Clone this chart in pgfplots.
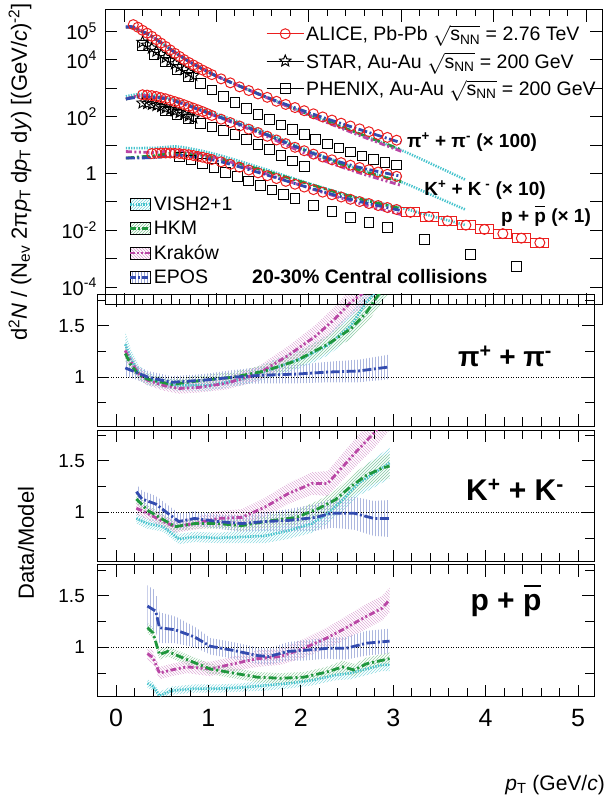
\documentclass[border=0pt]{standalone}
\usepackage{fontspec}
\setmainfont{Liberation Sans}
\usepackage{amsmath}
\usepackage{pgfplots}
\pgfplotsset{compat=1.18}
\usepackage{pgfplotstable}
\usetikzlibrary{patterns}

\definecolor{cVISH}{RGB}{70,195,205}
\definecolor{cHKM}{RGB}{30,150,60}
\definecolor{cKRK}{RGB}{185,70,165}
\definecolor{cEPOS}{RGB}{50,75,175}
\definecolor{cALICE}{RGB}{235,30,30}

\newcommand{\fs}[1]{\fontsize{#1}{#1}\selectfont}
\newcommand{\pbar}{\makebox[0pt][l]{\hspace{0.03em}\rule[0.78em]{0.55em}{0.08em}}p}

\pgfdeclareplotmark{fivestar}{%
 \pgfpathmoveto{\pgfpointpolar{90}{\pgfplotmarksize}}%
 \pgfpathlineto{\pgfpointpolar{126}{0.45\pgfplotmarksize}}%
 \pgfpathlineto{\pgfpointpolar{162}{\pgfplotmarksize}}%
 \pgfpathlineto{\pgfpointpolar{198}{0.45\pgfplotmarksize}}%
 \pgfpathlineto{\pgfpointpolar{234}{\pgfplotmarksize}}%
 \pgfpathlineto{\pgfpointpolar{270}{0.45\pgfplotmarksize}}%
 \pgfpathlineto{\pgfpointpolar{306}{\pgfplotmarksize}}%
 \pgfpathlineto{\pgfpointpolar{342}{0.45\pgfplotmarksize}}%
 \pgfpathlineto{\pgfpointpolar{18}{\pgfplotmarksize}}%
 \pgfpathlineto{\pgfpointpolar{54}{0.45\pgfplotmarksize}}%
 \pgfpathclose\pgfusepathqstroke}
\pgfdeclareplotmark{sysbox}{%
 \pgfpathrectangle{\pgfqpoint{-9pt}{-4.5pt}}{\pgfqpoint{18pt}{9pt}}\pgfusepathqstroke}

\tikzset{
 vish/.style={cVISH, line width=2.6pt, dash pattern=on 1.3pt off 1.3pt},
 hkm/.style={cHKM, line width=2.8pt, dash pattern=on 8pt off 3pt on 2pt off 3pt},
 krk/.style={cKRK, line width=2.8pt, dash pattern=on 6pt off 2.5pt on 2pt off 2.5pt on 2pt off 2.5pt},
 epos/.style={cEPOS, line width=2.8pt, dash pattern=on 9pt off 2.5pt on 2pt off 2.5pt},
}
\pgfplotsset{
 panel/.style={scale only axis, width=497pt, xmin=-0.206, xmax=5.173,
   xtick={0,1,2,3,4,5}, minor x tick num=4, xticklabels={,,,,,},
   axis line style={line width=1pt}, tick style={black, line width=0.9pt},
   tick align=inside, major tick length=12pt, minor tick length=6pt,
   anchor=south west},
 ratio/.style={panel, ymin=0.52, ymax=1.8, ytick={1,1.5}, yticklabels={1,1.5},
   minor ytick={0.75,1.25,1.75}, minor tick length=9pt,
   yticklabel style={font=\fs{19}, inner sep=0pt, anchor=east, xshift=-12pt}},
}

% hatched band between r-e and r+e, drawn in its own hidden axis
\newcommand{\bandaxis}[5]{%
\begin{axis}[scale only axis, width=497pt, height=#2, at={(105,#1)}, anchor=south west,
  xmin=-0.206, xmax=5.173, ymin=0.52, ymax=1.8, hide axis, stack plots=y]
\addplot[draw=none, fill=none, forget plot] table[x=x, y expr=\thisrow{r}-\thisrow{e}] {#3} \closedcycle;
\addplot[draw=none, pattern=#5, pattern color=#4, forget plot] table[x=x, y expr=2*\thisrow{e}] {#3} \closedcycle;
\end{axis}}

% ---------- ratio tables: pions ----------
\pgfplotstableread{
x r e
0.10 1.32 0.12
0.16 1.18 0.09
0.25 1.04 0.07
0.345 0.98 0.06
0.64 0.92 0.05
1.02 0.92 0.05
1.36 0.98 0.06
1.69 1.08 0.08
2.03 1.19 0.09
2.29 1.31 0.10
2.54 1.50 0.12
2.71 1.73 0.14
2.81 1.83 0.15
2.96 2.00 0.16
}\rPiV
\pgfplotstableread{
x r e
0.10 1.23 0.07
0.16 1.12 0.06
0.25 1.02 0.05
0.345 0.98 0.05
0.60 0.93 0.05
0.94 0.97 0.05
1.27 1.00 0.05
1.61 1.06 0.06
1.95 1.16 0.07
2.29 1.32 0.08
2.54 1.47 0.10
2.71 1.63 0.11
2.83 1.79 0.12
2.96 1.95 0.13
}\rPiH
\pgfplotstableread{
x r e
0.10 1.26 0.08
0.16 1.15 0.07
0.25 1.03 0.06
0.345 0.97 0.05
0.51 0.92 0.05
0.68 0.89 0.05
0.89 0.90 0.05
1.19 0.94 0.06
1.53 1.03 0.07
1.86 1.21 0.09
2.16 1.40 0.11
2.37 1.57 0.12
2.54 1.73 0.13
2.66 1.81 0.14
2.96 2.20 0.15
}\rPiK
\pgfplotstableread{
x r e
0.10 1.09 0.08
0.345 1.00 0.06
0.60 0.95 0.06
0.94 0.97 0.06
1.27 1.00 0.07
1.61 1.02 0.08
1.95 1.03 0.09
2.29 1.05 0.10
2.62 1.06 0.11
2.96 1.10 0.12
}\rPiE
% ---------- ratio tables: kaons ----------
\pgfplotstableread{
x r e
0.22 0.94 0.05
0.34 0.89 0.05
0.51 0.86 0.05
0.68 0.74 0.05
0.85 0.76 0.05
1.10 0.75 0.05
1.36 0.76 0.06
1.61 0.77 0.07
1.86 0.82 0.08
2.12 0.89 0.09
2.29 0.99 0.10
2.45 1.12 0.11
2.62 1.28 0.12
2.79 1.38 0.14
2.96 1.48 0.15
}\rKV
\pgfplotstableread{
x r e
0.22 1.13 0.05
0.34 1.02 0.05
0.47 0.95 0.05
0.64 0.86 0.05
0.85 0.89 0.05
1.10 0.89 0.05
1.36 0.87 0.05
1.61 0.91 0.06
1.95 0.95 0.07
2.20 1.04 0.08
2.37 1.12 0.09
2.54 1.25 0.10
2.71 1.36 0.11
2.88 1.43 0.12
2.96 1.45 0.12
}\rKH
\pgfplotstableread{
x r e
0.22 1.04 0.06
0.34 0.99 0.06
0.51 0.91 0.06
0.64 0.86 0.06
0.85 0.89 0.06
1.10 0.94 0.07
1.36 0.95 0.08
1.61 1.05 0.09
1.86 1.18 0.10
2.12 1.28 0.11
2.29 1.28 0.12
2.45 1.44 0.13
2.62 1.61 0.14
2.79 1.77 0.15
2.96 1.95 0.15
}\rKK
\pgfplotstableread{
x r e
0.22 1.20 0.08
0.28 1.13 0.08
0.43 1.08 0.08
0.56 0.99 0.08
0.68 0.91 0.08
0.85 0.94 0.07
1.10 0.91 0.07
1.36 0.89 0.08
1.61 0.91 0.09
1.86 0.92 0.11
2.16 0.95 0.13
2.33 0.99 0.14
2.58 0.99 0.16
2.79 0.94 0.17
2.96 0.94 0.18
}\rKE
% ---------- ratio tables: protons ----------
\pgfplotstableread{
x r e
0.34 0.65 0.04
0.40 0.62 0.04
0.47 0.53 0.04
0.60 0.58 0.04
0.85 0.60 0.04
1.10 0.60 0.04
1.36 0.61 0.04
1.61 0.63 0.05
1.86 0.65 0.05
2.12 0.68 0.05
2.37 0.73 0.05
2.54 0.75 0.06
2.71 0.79 0.06
2.88 0.83 0.06
2.96 0.83 0.06
}\rPV
\pgfplotstableread{
x r e
0.34 1.19 0.05
0.40 1.14 0.05
0.47 0.93 0.05
0.56 0.96 0.05
0.77 0.88 0.05
1.02 0.79 0.05
1.27 0.75 0.05
1.53 0.71 0.05
1.78 0.70 0.05
2.03 0.71 0.05
2.28 0.76 0.05
2.45 0.81 0.06
2.58 0.78 0.06
2.71 0.84 0.06
2.96 0.89 0.06
}\rPH
\pgfplotstableread{
x r e
0.34 0.94 0.06
0.40 0.90 0.06
0.47 0.75 0.06
0.60 0.78 0.06
0.77 0.81 0.06
1.02 0.79 0.07
1.27 0.84 0.07
1.53 0.89 0.08
1.78 0.91 0.08
2.03 0.99 0.09
2.28 1.09 0.10
2.45 1.17 0.11
2.71 1.30 0.12
2.88 1.38 0.12
2.96 1.46 0.12
}\rPK
\pgfplotstableread{
x r e
0.34 1.40 0.20
0.43 1.35 0.20
0.47 1.19 0.15
0.64 1.17 0.13
0.85 1.10 0.10
1.02 1.01 0.08
1.27 0.97 0.08
1.53 0.92 0.08
1.65 0.91 0.08
1.86 0.96 0.09
2.03 0.97 0.10
2.28 0.99 0.10
2.49 0.99 0.11
2.71 1.04 0.12
2.96 1.06 0.12
}\rPE

\begin{document}
\begin{tikzpicture}[x=1pt,y=1pt]
\path[use as bounding box] (0,0) rectangle (608,802);

% ================= BANDS =================
\bandaxis{365.5}{131.5pt}{\rPiV}{cVISH!60}{north east lines}
\bandaxis{365.5}{131.5pt}{\rPiH}{cHKM!45}{north east lines}
\bandaxis{365.5}{131.5pt}{\rPiK}{cKRK!45}{north west lines}
\bandaxis{365.5}{131.5pt}{\rPiE}{cEPOS!40}{vertical lines}
\bandaxis{234}{131.5pt}{\rKV}{cVISH!60}{north east lines}
\bandaxis{234}{131.5pt}{\rKH}{cHKM!45}{north east lines}
\bandaxis{234}{131.5pt}{\rKK}{cKRK!45}{north west lines}
\bandaxis{234}{131.5pt}{\rKE}{cEPOS!40}{vertical lines}
\bandaxis{102}{132pt}{\rPV}{cVISH!60}{north east lines}
\bandaxis{102}{132pt}{\rPH}{cHKM!45}{north east lines}
\bandaxis{102}{132pt}{\rPK}{cKRK!45}{north west lines}
\bandaxis{102}{132pt}{\rPE}{cEPOS!40}{vertical lines}

% ================= RATIO: PIONS =================
\begin{axis}[ratio, at={(105,365.5)}, height=131.5pt]
\addplot[black, line width=1pt, dash pattern=on 1pt off 1.5pt, forget plot] coordinates {(-0.3,1)(5.3,1)};
\addplot[vish, forget plot] table[x=x,y=r] {\rPiV};
\addplot[krk, forget plot] table[x=x,y=r] {\rPiK};
\addplot[hkm, forget plot] table[x=x,y=r] {\rPiH};
\addplot[epos, forget plot] table[x=x,y=r] {\rPiE};
\end{axis}

% ================= RATIO: KAONS =================
\begin{axis}[ratio, at={(105,234)}, height=131.5pt]
\addplot[black, line width=1pt, dash pattern=on 1pt off 1.5pt, forget plot] coordinates {(-0.3,1)(5.3,1)};
\addplot[vish, forget plot] table[x=x,y=r] {\rKV};
\addplot[krk, forget plot] table[x=x,y=r] {\rKK};
\addplot[hkm, forget plot] table[x=x,y=r] {\rKH};
\addplot[epos, forget plot] table[x=x,y=r] {\rKE};
\end{axis}

% ================= RATIO: PROTONS =================
\begin{axis}[ratio, at={(105,102)}, height=132pt,
  xticklabels={0,1,2,3,4,5},
  xticklabel style={font=\fs{25}, inner sep=0pt, anchor=north, yshift=-12pt}]
\addplot[black, line width=1pt, dash pattern=on 1pt off 1.5pt, forget plot] coordinates {(-0.3,1)(5.3,1)};
\addplot[vish, forget plot] table[x=x,y=r] {\rPV};
\addplot[krk, forget plot] table[x=x,y=r] {\rPK};
\addplot[hkm, forget plot] table[x=x,y=r] {\rPH};
\addplot[epos, forget plot] table[x=x,y=r] {\rPE};
\end{axis}

% ================= TOP PANEL =================
\begin{scope}[shift={(105,497)}]
\begin{axis}[panel, height=295pt,
  ymode=log, ymin=2.33e-5, ymax=5.7e5,
  ytick={1e-4,1e-3,1e-2,1e-1,1,1e1,1e2,1e3,1e4,1e5},
  yticklabels={{10\textsuperscript{-4}},{},{10\textsuperscript{-2}},{},{1},{},{10\textsuperscript{2}},{},{10\textsuperscript{4}},{10\textsuperscript{5}}},
  minor y tick style={draw=none},
  yticklabel style={font=\fs{20}, inner sep=0pt, anchor=east, xshift=-8pt},
  legend image code/.code={\draw[mark repeat=2,mark phase=2,#1] plot coordinates {(0pt,0pt) (18.5pt,0pt) (37pt,0pt)};},
  legend style={at={(axis description cs:0.318,0.963)}, anchor=north west, draw=none, fill=none,
    font=\fs{19.5}, row sep=6pt, cells={anchor=west}},
]
\addlegendimage{cALICE, mark=o, mark size=5pt, line width=1pt}
\addlegendimage{black, mark=fivestar, mark size=6pt, line width=1pt}
\addlegendimage{black, mark=square, mark size=5pt, line width=1pt}

% PHENIX pions (x100)
\addplot[black, only marks, mark=square, mark size=4.8pt, line width=1pt, forget plot] coordinates {
(0.200,3.16e4)(0.325,1.58e4)(0.450,8.32e3)(0.575,4.47e3)(0.700,2.51e3)(0.825,1.48e3)(0.950,871)(1.075,513)(1.200,309)(1.325,191)(1.450,120)(1.575,77.6)(1.700,51.3)(1.825,34.7)(1.950,23.4)(2.075,15.8)(2.200,11.0)(2.325,7.76)(2.450,5.62)(2.575,4.17)(2.700,3.16)(2.825,2.45)(2.950,2.00)};
% PHENIX kaons (x10)
\addplot[black, only marks, mark=square, mark size=4.8pt, line width=1pt, forget plot] coordinates {
(0.450,158)(0.575,120)(0.700,83.2)(0.825,57.5)(0.950,43.7)(1.075,33.1)(1.200,23.4)(1.325,15.8)(1.450,10.7)(1.575,7.08)(1.700,4.37)(1.825,2.75)(1.950,1.78)};
% PHENIX protons
\addplot[black, only marks, mark=square, mark size=4.8pt, line width=1pt, forget plot] coordinates {
(0.600,3.80)(0.725,2.95)(0.850,2.19)(0.975,1.55)(1.100,1.10)(1.225,0.776)(1.350,0.537)(1.475,0.372)(1.600,0.257)(1.725,0.182)(1.850,0.129)(2.050,0.0741)(2.250,0.0447)(2.450,0.0282)(2.650,0.0186)(2.850,0.0123)(3.250,0.00468)(3.750,0.00141)(4.250,0.000525)};
% STAR pions and kaons
\addplot[black, only marks, mark=fivestar, mark size=6pt, line width=0.9pt, forget plot] coordinates {
(0.20,4.17e4)(0.25,3.31e4)(0.30,2.57e4)(0.35,2.00e4)(0.40,1.55e4)(0.45,1.20e4)(0.50,9.33e3)(0.55,7.24e3)(0.60,5.62e3)(0.65,4.47e3)(0.70,3.55e3)(0.75,2.82e3)};
\addplot[black, only marks, mark=fivestar, mark size=6pt, line width=0.9pt, forget plot] coordinates {
(0.20,302)(0.25,288)(0.30,269)(0.35,245)(0.40,224)(0.45,200)(0.50,178)(0.55,158)(0.60,138)(0.65,120)(0.70,105)(0.75,89.1)};
% ALICE pions (x100)
\addplot[cALICE, only marks, mark=o, mark size=5pt, line width=1pt, forget plot] coordinates {
(0.10,1.74e5)(0.15,1.41e5)(0.20,1.10e5)(0.25,8.71e4)(0.30,6.76e4)(0.35,5.13e4)(0.40,3.89e4)(0.45,2.95e4)(0.50,2.24e4)(0.55,1.70e4)(0.60,1.32e4)(0.65,1.02e4)(0.70,8.13e3)(0.75,6.61e3)(0.80,5.37e3)(0.85,4.37e3)(0.90,3.63e3)(0.95,3.02e3)
(1.05,2.14e3)(1.15,1.55e3)(1.25,1.12e3)(1.35,832)(1.45,631)(1.55,479)(1.65,347)(1.75,269)(1.85,209)(1.95,162)(2.05,126)(2.15,97.7)(2.25,75.9)(2.35,58.9)(2.45,46.8)(2.55,37.2)(2.65,29.5)(2.75,23.4)(2.85,18.6)(2.95,14.8)};
% ALICE kaons (x10)
\addplot[cALICE, only marks, mark=o, mark size=5pt, line width=1pt, forget plot] coordinates {
(0.20,589)(0.25,575)(0.30,550)(0.35,513)(0.40,468)(0.45,427)(0.50,380)(0.55,339)(0.60,302)(0.65,263)(0.70,229)(0.75,200)(0.80,174)(0.85,151)(0.90,129)(0.95,110)
(1.05,81.3)(1.15,61.7)(1.25,46.8)(1.35,36.3)(1.45,27.5)(1.55,20.4)(1.65,15.1)(1.75,11.2)(1.85,8.32)(1.95,6.31)(2.05,4.79)(2.15,3.80)(2.25,3.02)(2.35,2.40)(2.45,1.95)(2.55,1.62)(2.65,1.35)(2.75,1.12)(2.85,0.933)(2.95,0.794)};
% ALICE protons
\addplot[cALICE, only marks, mark=o, mark size=5pt, line width=1pt, forget plot] coordinates {
(0.30,5.01)(0.35,5.13)(0.40,5.25)(0.45,5.25)(0.50,5.25)(0.55,5.13)(0.60,5.01)(0.65,4.79)(0.70,4.57)(0.75,4.27)(0.80,3.98)(0.85,3.72)(0.90,3.39)(0.95,3.09)
(1.05,2.57)(1.15,2.09)(1.25,1.66)(1.35,1.32)(1.45,1.05)(1.55,0.832)(1.65,0.661)(1.75,0.525)(1.85,0.417)(1.95,0.331)(2.05,0.269)(2.15,0.219)(2.25,0.178)(2.35,0.148)(2.45,0.123)(2.55,0.102)(2.65,0.0871)(2.75,0.0741)(2.85,0.0631)(2.95,0.0537)
(3.10,0.0427)(3.30,0.0302)(3.50,0.0214)(3.70,0.0151)(3.90,0.0107)(4.10,0.00759)(4.30,0.00525)(4.50,0.00363)};
\addplot[cALICE, only marks, mark=sysbox, line width=0.8pt, forget plot] coordinates {
(3.10,0.0427)(3.30,0.0302)(3.50,0.0214)(3.70,0.0151)(3.90,0.0107)(4.10,0.00759)(4.30,0.00525)(4.50,0.00363)};

% ---- model curves: pions ----
\addplot[vish, smooth, forget plot] coordinates {(0.02,1.41e5)(0.1,1.35e5)(0.2,9.77e4)(0.3,6.76e4)(0.5,2.40e4)(0.7,8.91e3)(1.0,2.69e3)(1.5,550)(2.0,120)(2.5,28.2)(3.0,6.61)(3.35,2.0)(3.7,0.589)};
\addplot[hkm, smooth, forget plot] coordinates {(0.02,1.41e5)(0.1,1.35e5)(0.2,9.77e4)(0.3,6.76e4)(0.5,2.40e4)(0.7,8.91e3)(1.0,2.69e3)(1.5,550)(2.0,120)(2.5,28.8)(3.0,6.76)};
\addplot[krk, smooth, forget plot] coordinates {(0.02,1.41e5)(0.1,1.35e5)(0.2,9.77e4)(0.3,6.76e4)(0.5,2.40e4)(0.7,8.91e3)(1.0,2.69e3)(1.5,537)(2.0,112)(2.5,25.1)(3.0,6.03)};
\addplot[epos, smooth, forget plot] coordinates {(0.02,1.45e5)(0.1,1.45e5)(0.2,1.0e5)(0.3,6.76e4)(0.5,2.40e4)(0.7,8.91e3)(1.0,2.69e3)(1.5,550)(2.0,138)(2.5,39.8)(3.0,12.0)};
% ---- model curves: kaons ----
\addplot[vish, smooth, forget plot] coordinates {(0.02,513)(0.2,631)(0.5,437)(1.0,126)(1.5,30.9)(2.0,6.31)(2.5,1.58)(3.0,0.501)(3.35,0.162)(3.7,0.0525)};
\addplot[hkm, smooth, forget plot] coordinates {(0.02,417)(0.2,525)(0.5,398)(1.0,107)(1.5,26.3)(2.0,5.75)(2.5,1.45)(3.0,0.513)};
\addplot[krk, smooth, forget plot] coordinates {(0.02,417)(0.2,562)(0.5,407)(1.0,102)(1.5,23.4)(2.0,4.47)(2.5,1.17)(3.0,0.380)};
\addplot[epos, smooth, forget plot] coordinates {(0.02,417)(0.2,490)(0.5,389)(1.0,105)(1.5,26.3)(2.0,5.75)(2.5,1.78)(3.0,0.794)};
% ---- model curves: protons ----
\addplot[vish, smooth, forget plot] coordinates {(0.02,7.76)(0.34,7.94)(0.6,8.71)(1.0,4.68)(1.5,1.51)(2.0,0.447)(2.5,0.148)(3.0,0.0617)(3.35,0.0302)(3.7,0.0151)};
\addplot[hkm, smooth, forget plot] coordinates {(0.02,3.47)(0.34,4.27)(0.6,5.25)(1.0,3.55)(1.5,1.29)(2.0,0.427)(2.5,0.141)(3.0,0.0575)};
\addplot[krk, smooth, forget plot] coordinates {(0.02,5.89)(0.34,5.50)(0.6,6.46)(1.0,3.55)(1.5,1.07)(2.0,0.309)(2.5,0.0977)(3.0,0.0355)};
\addplot[epos, smooth, forget plot] coordinates {(0.02,3.47)(0.34,3.63)(0.6,4.37)(1.0,2.82)(1.5,0.977)(2.0,0.316)(2.5,0.112)(3.0,0.0490)};

\legend{{ALICE, Pb-Pb $\sqrt{\text{s}_{\text{NN}}}$ = 2.76 TeV},{STAR, Au-Au $\sqrt{\text{s}_{\text{NN}}}$ = 200 GeV},{PHENIX, Au-Au $\sqrt{\text{s}_{\text{NN}}}$ = 200 GeV}}
\end{axis}
\end{scope}

% model legend (overlay axis)
\begin{scope}[shift={(105,497)}]
\begin{axis}[anchor=south west, scale only axis, width=497pt, height=295pt,
  hide axis, xmin=0, xmax=1, ymin=0, ymax=1,
  legend style={at={(axis description cs:0.042,0.38)}, anchor=north west, draw=none, fill=none,
    font=\fs{19.5}, row sep=5pt, cells={anchor=west}}]
\addplot[draw=none, forget plot] coordinates {(0,0)(1,1)};
\addlegendimage{legend image code/.code={\fill[pattern=north east lines, pattern color=cVISH!70] (0pt,-6pt) rectangle (20pt,6pt); \draw[vish] (0pt,0pt) -- (20pt,0pt);}}
\addlegendimage{legend image code/.code={\fill[pattern=north east lines, pattern color=cHKM!55] (0pt,-6pt) rectangle (20pt,6pt); \draw[hkm, dash pattern=on 6pt off 2pt on 2pt off 2pt] (0pt,0pt) -- (20pt,0pt);}}
\addlegendimage{legend image code/.code={\fill[pattern=north west lines, pattern color=cKRK!55] (0pt,-6pt) rectangle (20pt,6pt); \draw[krk, dash pattern=on 5pt off 2pt on 2pt off 2pt on 2pt off 2pt] (0pt,0pt) -- (20pt,0pt);}}
\addlegendimage{legend image code/.code={\fill[pattern=vertical lines, pattern color=cEPOS!50] (0pt,-6pt) rectangle (20pt,6pt); \draw[epos, dash pattern=on 6pt off 2pt on 2pt off 2pt] (0pt,0pt) -- (20pt,0pt);}}
\legend{VISH2+1,HKM,Kraków,EPOS}
\end{axis}
\end{scope}

% ================= TEXT =================
\node[font=\fs{19}\bfseries] at (472,660) {π\textsuperscript{+} + π\textsuperscript{-} (× 100)};
\node[font=\fs{19}\bfseries] at (485,612) {K\textsuperscript{+} + K\textsuperscript{ -} (× 10)};
\node[font=\fs{19}\bfseries] at (546,586) {p + \pbar{} (× 1)};
\node[font=\fs{19.5}\bfseries, anchor=west, inner sep=0pt] at (252,525) {20-30\% Central collisions};

\node[font=\fs{28}\bfseries] at (505,446) {π\textsuperscript{+} + π\textsuperscript{-}};
\node[font=\fs{30}\bfseries] at (515,312) {K\textsuperscript{+} + K\textsuperscript{-}};
\node[font=\fs{30}\bfseries] at (506,201) {p + \pbar};

\node[rotate=90, font=\fs{22}, inner sep=0pt] at (20,630) {d\textsuperscript{2}\textit{N} / (N\textsubscript{ev} 2π\textit{p}\textsubscript{T} d\textit{p}\textsubscript{T} d\textit{y}) [(GeV/\textit{c})\textsuperscript{-2}]};
\node[rotate=90, font=\fs{22}, inner sep=0pt] at (26,259) {Data/Model};
\node[font=\fs{21}, anchor=east, inner sep=0pt] at (605,17) {\textit{p}\textsubscript{T} (GeV/\textit{c})};
\end{tikzpicture}
\end{document}
